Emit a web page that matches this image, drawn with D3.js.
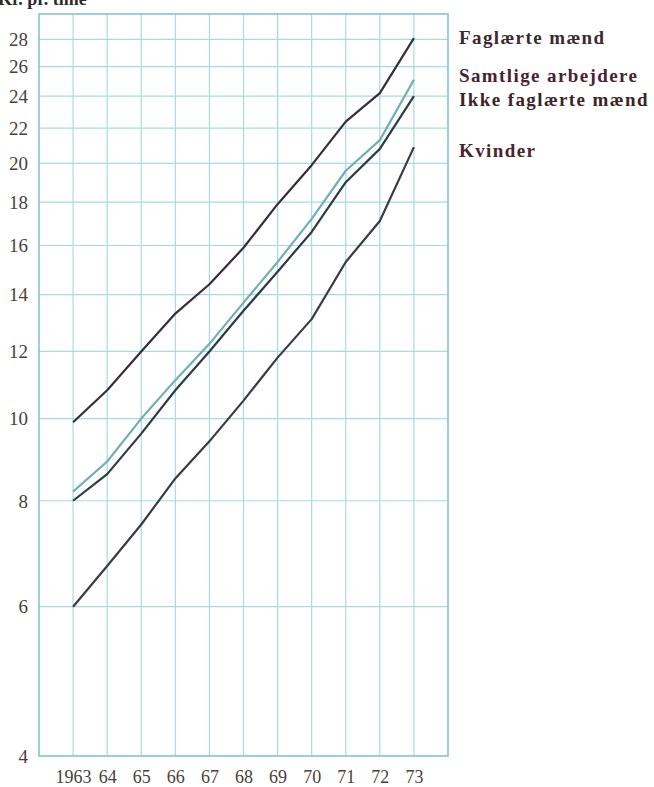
<!DOCTYPE html>
<html><head><meta charset="utf-8">
<script src="https://cdn.jsdelivr.net/npm/d3@7"></script>
<style>
html,body{margin:0;padding:0;background:#fff;}
svg{display:block;}
</style></head>
<body>
<svg id="chart" width="654" height="787"></svg>
<script>
const years = [1963,1964,1965,1966,1967,1968,1969,1970,1971,1972,1973];
const yearLabels = ["1963","64","65","66","67","68","69","70","71","72","73"];
const yTicks = [4,6,8,10,12,14,16,18,20,22,24,26,28];
const faglaerte = [9.9,10.8,12.0,13.3,14.4,15.9,17.9,19.9,22.4,24.2,28.1];
const samtlige  = [8.2,8.9,10.0,11.1,12.25,13.7,15.3,17.2,19.6,21.3,25.1];
const ikke      = [8.0,8.6,9.6,10.8,12.0,13.4,14.9,16.6,19.0,20.8,24.0];
const kvinder   = [6.0,6.7,7.5,8.5,9.4,10.5,11.8,13.1,15.3,17.1,20.9];
const seriesNames = ["Faglærte mænd","Samtlige arbejdere","Ikke faglærte mænd","Kvinder"];
const seriesValues = [faglaerte, samtlige, ikke, kvinder];
const seriesColors = ["#3b2c3c","#6fb0b4","#2c3c44","#3e3a44"];
const labelColors = ["#3a2a32","#4a2232","#3a2626","#4a2430"];
const labelBaselines = [44,82,105.5,156.5];

const svg = d3.select("#chart");
const L=39, R=448, T=14, B=756;
const x = d3.scaleLinear().domain([1962,1974]).range([L,R]);
const y = d3.scaleLog().domain([4,30]).range([B,T]);

const gridColor = "#a8dcdc";
// vertical grid
svg.append("g").selectAll("line").data(years).join("line")
  .attr("x1",d=>x(d)).attr("x2",d=>x(d)).attr("y1",T).attr("y2",B)
  .attr("stroke",gridColor).attr("stroke-width",1.2);
// horizontal grid
svg.append("g").selectAll("line").data(yTicks.filter(d=>d>4)).join("line")
  .attr("x1",L).attr("x2",R).attr("y1",d=>y(d)).attr("y2",d=>y(d))
  .attr("stroke",gridColor).attr("stroke-width",1.2);
// frame
svg.append("rect").attr("x",L).attr("y",T).attr("width",R-L).attr("height",B-T)
  .attr("fill","none").attr("stroke","#80c6ca").attr("stroke-width",1.6);

// y axis labels
const yAxis = d3.axisLeft(y).tickValues(yTicks).tickFormat(d3.format("d")).tickSize(0).tickPadding(11);
const gy = svg.append("g").attr("transform",`translate(${L},0)`).call(yAxis);
gy.select(".domain").remove();
gy.selectAll("text").attr("font-family","'Liberation Serif', serif").attr("font-size",19)
  .attr("fill","#4a3f3c").attr("dy","0.33em");

// x axis labels
const xAxis = d3.axisBottom(x).tickValues(years).tickFormat((d,i)=>yearLabels[i]).tickSize(0).tickPadding(14);
const gx = svg.append("g").attr("transform",`translate(0,${B})`).call(xAxis);
gx.select(".domain").remove();
gx.selectAll("text").attr("font-family","'Liberation Serif', serif").attr("font-size",18)
  .attr("fill","#4a3f3c");

// lines
const line = d3.line().x((d,i)=>x(years[i])).y(d=>y(d));
svg.append("g").selectAll("path").data(seriesValues).join("path")
  .attr("d",line).attr("fill","none")
  .attr("stroke",(d,i)=>seriesColors[i]).attr("stroke-width",2.2)
  .attr("stroke-linejoin","round");

// series labels
svg.append("g").selectAll("text").data(seriesNames).join("text")
  .attr("x",459).attr("y",(d,i)=>labelBaselines[i])
  .attr("font-family","'Liberation Serif', serif").attr("font-weight","bold")
  .attr("font-size",19).attr("letter-spacing","1.4px")
  .attr("fill",(d,i)=>labelColors[i]).text(d=>d);

// unit title (cut at top, as in the reference)
svg.append("text").attr("x",-2).attr("y",5)
  .attr("font-family","'Liberation Serif', serif").attr("font-weight","bold")
  .attr("font-size",18).attr("fill","#2e2a28").text("Kr. pr. time");
</script>
</body></html>
